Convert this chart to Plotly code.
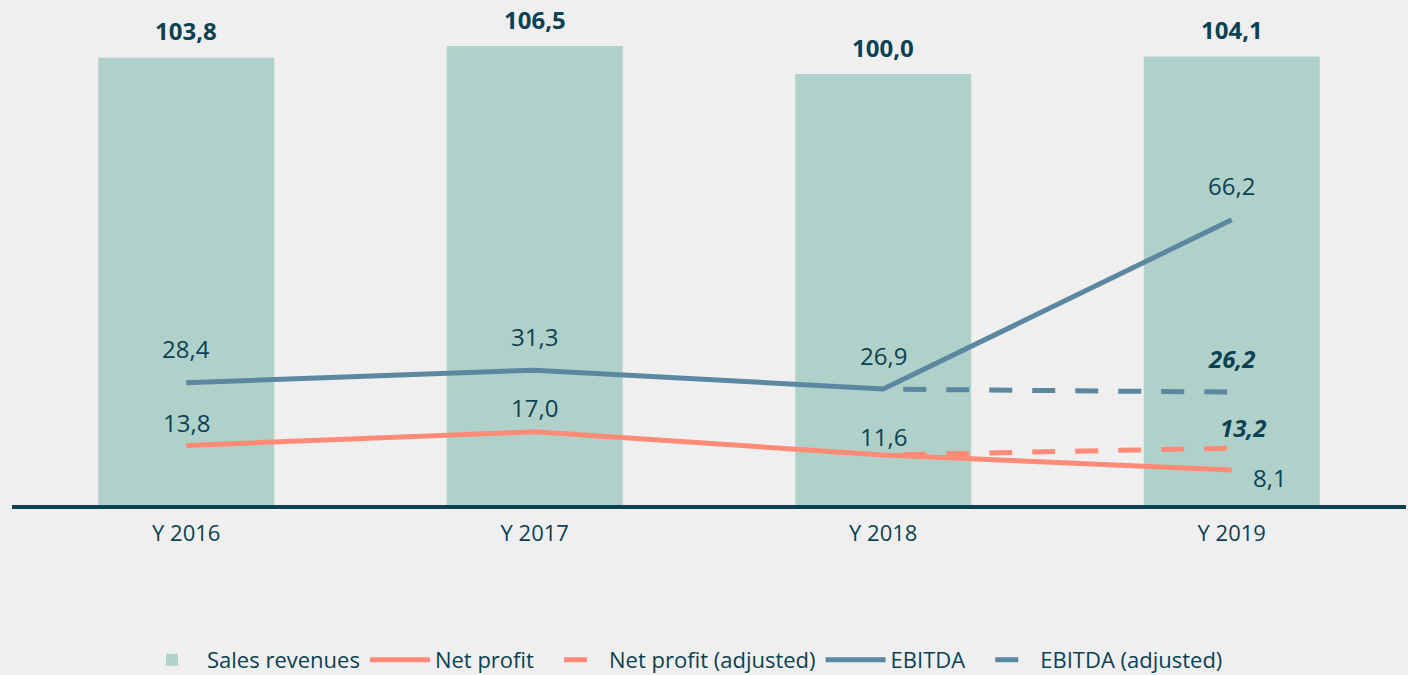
import plotly.graph_objects as go

categories = ["Y 2016", "Y 2017", "Y 2018", "Y 2019"]
sales_revenues = [103.8, 106.5, 100.0, 104.1]
net_profit = [13.8, 17.0, 11.6, 8.1]
ebitda = [28.4, 31.3, 26.9, 66.2]
adj_categories = ["Y 2018", "Y 2019"]
net_profit_adj = [11.6, 13.2]
ebitda_adj = [26.9, 26.2]

def fmt(v):
    return f"{v:.1f}".replace(".", ",")

BG = "#efefef"
BAR = "#b0d1ca"
SALMON = "#ff8a78"
BLUE = "#5b87a0"
DARK = "#0b4151"
FONT = "Open Sans"
DASH = "0px,20px,23px,0px"

fig = go.Figure()
fig.add_trace(go.Bar(x=categories, y=sales_revenues, name="Sales revenues",
                     marker=dict(color=BAR, line=dict(width=0)), width=0.505))
fig.add_trace(go.Scatter(x=categories, y=net_profit, name="Net profit", mode="lines",
                         line=dict(color=SALMON, width=5)))
fig.add_trace(go.Scatter(x=adj_categories, y=net_profit_adj, name="Net profit (adjusted)", mode="lines",
                         line=dict(color=SALMON, width=5, dash=DASH)))
fig.add_trace(go.Scatter(x=categories, y=ebitda, name="EBITDA", mode="lines",
                         line=dict(color=BLUE, width=5)))
fig.add_trace(go.Scatter(x=adj_categories, y=ebitda_adj, name="EBITDA (adjusted)", mode="lines",
                         line=dict(color=BLUE, width=5, dash=DASH)))

ann = []
for c, v in zip(categories, sales_revenues):
    ann.append(dict(x=c, y=v, text=f"<b>{fmt(v)}</b>", yshift=27, font=dict(size=24, color=DARK)))
for c, v in zip(categories, ebitda):
    ann.append(dict(x=c, y=v, text=fmt(v), yshift=34, font=dict(size=24, color=DARK)))
np_shifts = [(0, 23), (0, 24), (0, 19), (38, -7)]
for (c, v), (dx, dy) in zip(zip(categories, net_profit), np_shifts):
    ann.append(dict(x=c, y=v, text=fmt(v), xshift=dx, yshift=dy, font=dict(size=24, color=DARK)))
ann.append(dict(x=adj_categories[-1], y=ebitda_adj[-1], text=f"<b><i>{fmt(ebitda_adj[-1])}</i></b>",
                yshift=34, font=dict(size=24, color=DARK)))
ann.append(dict(x=adj_categories[-1], y=net_profit_adj[-1], text=f"<b><i>{fmt(net_profit_adj[-1])}</i></b>",
                xshift=12, yshift=21, font=dict(size=24, color=DARK)))
for a in ann:
    a.update(xref="x", yref="y", showarrow=False, xanchor="center", yanchor="middle")

fig.update_layout(
    width=1408, height=675,
    margin=dict(l=12, r=2, t=0, b=170, autoexpand=False),
    paper_bgcolor=BG, plot_bgcolor=BG,
    font=dict(family=FONT, color=DARK),
    showlegend=True,
    legend=dict(orientation="h", x=0.481, xanchor="center", xref="paper",
                y=1 - 660 / 675, yanchor="middle", yref="container",
                font=dict(size=22, color=DARK), itemwidth=60, tracegroupgap=0),
    annotations=ann,
    bargap=0.5,
)
fig.update_xaxes(type="category", showline=True, linecolor=DARK, linewidth=4,
                 showgrid=False, ticks="", tickfont=dict(size=22, color=DARK),
                 ticklabelstandoff=6, range=[-0.5, 3.5])
fig.update_yaxes(range=[0, 117.2], visible=False, showgrid=False, zeroline=False)

fig.write_html("out.html", config={"displayModeBar": False},
               post_script="document.body.style.margin='0';document.body.style.background='#efefef';")
